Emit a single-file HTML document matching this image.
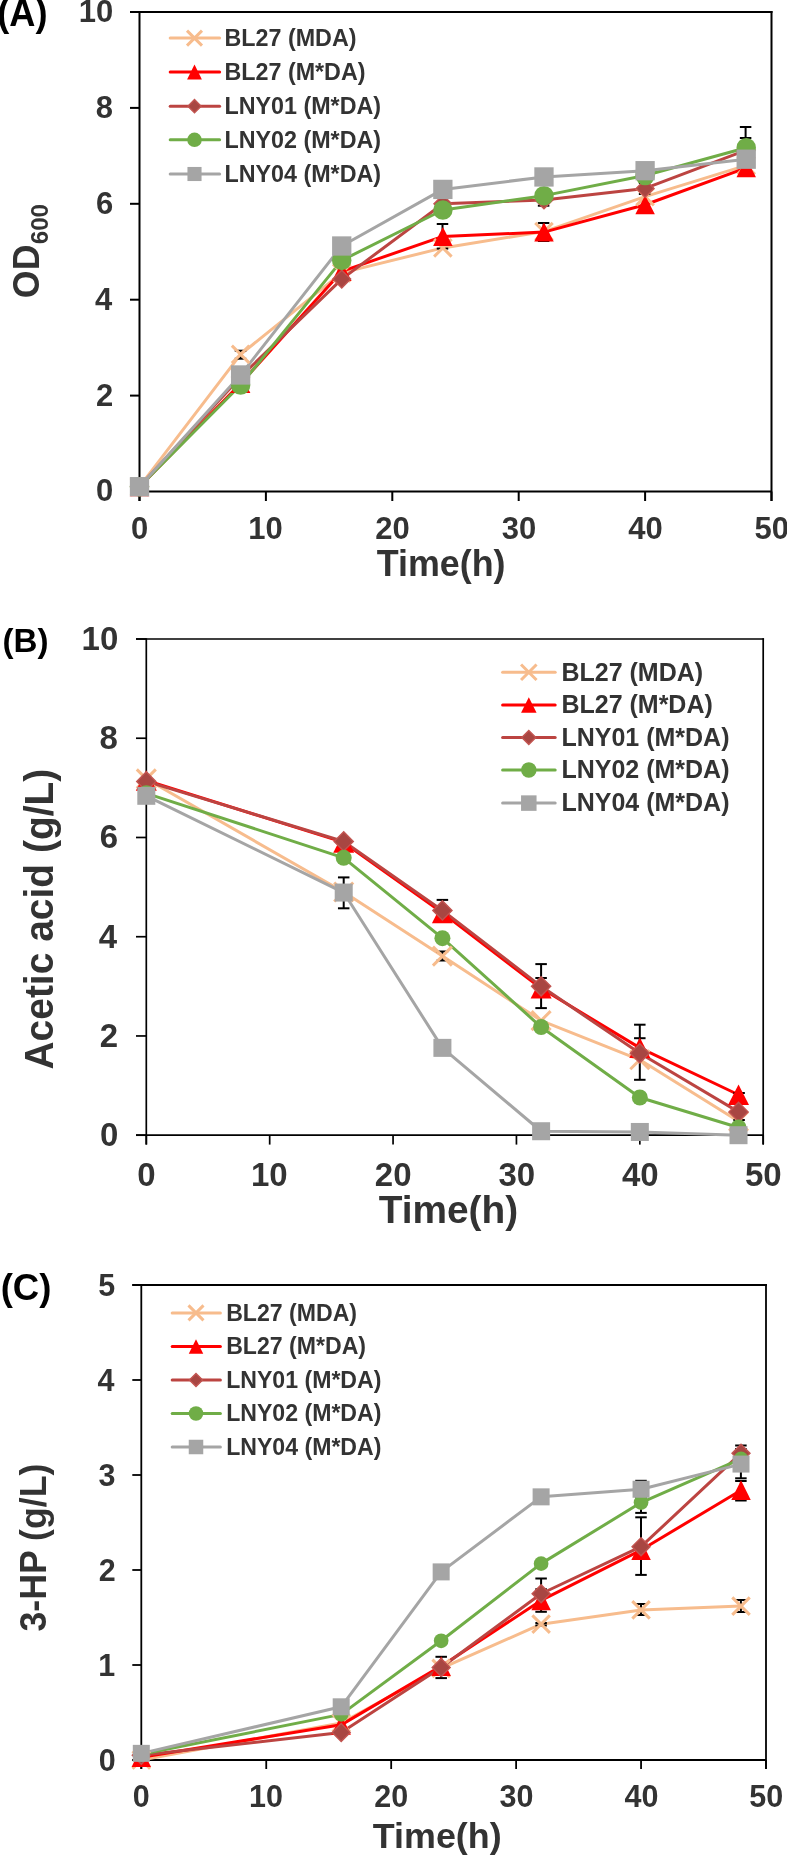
<!DOCTYPE html>
<html><head><meta charset="utf-8"><style>
html,body{margin:0;padding:0;background:#fff;}
svg{display:block;will-change:transform;}
text{font-family:"Liberation Sans",sans-serif;font-weight:bold;}
</style></head><body>
<svg width="787" height="1856" viewBox="0 0 787 1856">
<rect width="787" height="1856" fill="#fff"/>
<line x1="130" y1="491.5" x2="139.5" y2="491.5" stroke="#000" stroke-width="2" stroke-linecap="butt"/>
<line x1="130" y1="395.6" x2="139.5" y2="395.6" stroke="#000" stroke-width="2" stroke-linecap="butt"/>
<line x1="130" y1="299.7" x2="139.5" y2="299.7" stroke="#000" stroke-width="2" stroke-linecap="butt"/>
<line x1="130" y1="203.8" x2="139.5" y2="203.8" stroke="#000" stroke-width="2" stroke-linecap="butt"/>
<line x1="130" y1="107.9" x2="139.5" y2="107.9" stroke="#000" stroke-width="2" stroke-linecap="butt"/>
<line x1="130" y1="12" x2="139.5" y2="12" stroke="#000" stroke-width="2" stroke-linecap="butt"/>
<line x1="130" y1="12" x2="772.5" y2="12" stroke="#000" stroke-width="2" stroke-linecap="butt"/>
<line x1="771.5" y1="11" x2="771.5" y2="501" stroke="#000" stroke-width="2" stroke-linecap="butt"/>
<line x1="139.5" y1="11" x2="139.5" y2="501" stroke="#000" stroke-width="2" stroke-linecap="butt"/>
<line x1="130" y1="491.5" x2="771.5" y2="491.5" stroke="#000" stroke-width="2" stroke-linecap="butt"/>
<line x1="139.5" y1="491.5" x2="139.5" y2="501" stroke="#000" stroke-width="2" stroke-linecap="butt"/>
<line x1="265.9" y1="491.5" x2="265.9" y2="501" stroke="#000" stroke-width="2" stroke-linecap="butt"/>
<line x1="392.3" y1="491.5" x2="392.3" y2="501" stroke="#000" stroke-width="2" stroke-linecap="butt"/>
<line x1="518.7" y1="491.5" x2="518.7" y2="501" stroke="#000" stroke-width="2" stroke-linecap="butt"/>
<line x1="645.1" y1="491.5" x2="645.1" y2="501" stroke="#000" stroke-width="2" stroke-linecap="butt"/>
<line x1="771.5" y1="491.5" x2="771.5" y2="501" stroke="#000" stroke-width="2" stroke-linecap="butt"/>
<text x="96.03" y="501.4" font-size="31" fill="#333333" textLength="17.24" lengthAdjust="spacingAndGlyphs">0</text>
<text x="96" y="405.5" font-size="31" fill="#333333" textLength="17.24" lengthAdjust="spacingAndGlyphs">2</text>
<text x="94.93" y="309.6" font-size="31" fill="#333333" textLength="17.24" lengthAdjust="spacingAndGlyphs">4</text>
<text x="95.88" y="213.7" font-size="31" fill="#333333" textLength="17.24" lengthAdjust="spacingAndGlyphs">6</text>
<text x="95.71" y="117.8" font-size="31" fill="#333333" textLength="17.24" lengthAdjust="spacingAndGlyphs">8</text>
<text x="78.79" y="21.9" font-size="31" fill="#333333" textLength="34.48" lengthAdjust="spacingAndGlyphs">10</text>
<text x="130.9" y="538.5" font-size="31" fill="#333333" textLength="17.24" lengthAdjust="spacingAndGlyphs">0</text>
<text x="248.32" y="538.5" font-size="31" fill="#333333" textLength="34.48" lengthAdjust="spacingAndGlyphs">10</text>
<text x="375.16" y="538.5" font-size="31" fill="#333333" textLength="34.48" lengthAdjust="spacingAndGlyphs">20</text>
<text x="501.74" y="538.5" font-size="31" fill="#333333" textLength="34.48" lengthAdjust="spacingAndGlyphs">30</text>
<text x="628.26" y="538.5" font-size="31" fill="#333333" textLength="34.48" lengthAdjust="spacingAndGlyphs">40</text>
<text x="754.42" y="538.5" font-size="31" fill="#333333" textLength="34.48" lengthAdjust="spacingAndGlyphs">50</text>
<polyline points="139.5,486.7 240.62,354.36 341.74,272.85 442.86,247.91 543.98,231.61 645.1,196.61 746.22,165.44" fill="none" stroke="#F7BC8D" stroke-width="3" stroke-linejoin="round" stroke-linecap="round"/>
<polyline points="139.5,486.7 240.62,383.61 341.74,271.41 442.86,236.41 543.98,232.09 645.1,204.76 746.22,167.84" fill="none" stroke="#FF0000" stroke-width="3" stroke-linejoin="round" stroke-linecap="round"/>
<polyline points="139.5,486.7 240.62,376.9 341.74,279.08 442.86,203.8 543.98,199.96 645.1,188.46 746.22,150.1" fill="none" stroke="#BC4441" stroke-width="3" stroke-linejoin="round" stroke-linecap="round"/>
<polyline points="139.5,486.7 240.62,385.05 341.74,260.38 442.86,210.03 543.98,195.65 645.1,175.51 746.22,147.7" fill="none" stroke="#70AD47" stroke-width="3" stroke-linejoin="round" stroke-linecap="round"/>
<polyline points="139.5,486.7 240.62,374.98 341.74,246 442.86,189.41 543.98,176.95 645.1,170.71 746.22,159.21" fill="none" stroke="#A5A5A5" stroke-width="3" stroke-linejoin="round" stroke-linecap="round"/>
<line x1="240.5" y1="350.7" x2="240.5" y2="358.7" stroke="#000" stroke-width="2" stroke-linecap="butt"/>
<line x1="234.75" y1="350.7" x2="246.25" y2="350.7" stroke="#000" stroke-width="2" stroke-linecap="butt"/>
<line x1="234.75" y1="358.7" x2="246.25" y2="358.7" stroke="#000" stroke-width="2" stroke-linecap="butt"/>
<line x1="442.5" y1="224" x2="442.5" y2="248.6" stroke="#000" stroke-width="2" stroke-linecap="butt"/>
<line x1="436.75" y1="224" x2="448.25" y2="224" stroke="#000" stroke-width="2" stroke-linecap="butt"/>
<line x1="436.75" y1="248.6" x2="448.25" y2="248.6" stroke="#000" stroke-width="2" stroke-linecap="butt"/>
<line x1="543.6" y1="223" x2="543.6" y2="241" stroke="#000" stroke-width="2" stroke-linecap="butt"/>
<line x1="537.85" y1="223" x2="549.35" y2="223" stroke="#000" stroke-width="2" stroke-linecap="butt"/>
<line x1="537.85" y1="241" x2="549.35" y2="241" stroke="#000" stroke-width="2" stroke-linecap="butt"/>
<line x1="543.6" y1="194.3" x2="543.6" y2="205.7" stroke="#000" stroke-width="2" stroke-linecap="butt"/>
<line x1="537.85" y1="194.3" x2="549.35" y2="194.3" stroke="#000" stroke-width="2" stroke-linecap="butt"/>
<line x1="537.85" y1="205.7" x2="549.35" y2="205.7" stroke="#000" stroke-width="2" stroke-linecap="butt"/>
<line x1="644.6" y1="183" x2="644.6" y2="194" stroke="#000" stroke-width="2" stroke-linecap="butt"/>
<line x1="638.85" y1="183" x2="650.35" y2="183" stroke="#000" stroke-width="2" stroke-linecap="butt"/>
<line x1="638.85" y1="194" x2="650.35" y2="194" stroke="#000" stroke-width="2" stroke-linecap="butt"/>
<line x1="745.6" y1="127" x2="745.6" y2="138" stroke="#000" stroke-width="2" stroke-linecap="butt"/>
<line x1="739.85" y1="127" x2="751.35" y2="127" stroke="#000" stroke-width="2" stroke-linecap="butt"/>
<line x1="739.85" y1="138" x2="751.35" y2="138" stroke="#000" stroke-width="2" stroke-linecap="butt"/>
<path d="M130.75,477.95L148.25,495.45M148.25,477.95L130.75,495.45" stroke="#F7BC8D" stroke-width="3" fill="none"/>
<path d="M231.87,345.61L249.37,363.11M249.37,345.61L231.87,363.11" stroke="#F7BC8D" stroke-width="3" fill="none"/>
<path d="M332.99,264.1L350.49,281.6M350.49,264.1L332.99,281.6" stroke="#F7BC8D" stroke-width="3" fill="none"/>
<path d="M434.11,239.16L451.61,256.66M451.61,239.16L434.11,256.66" stroke="#F7BC8D" stroke-width="3" fill="none"/>
<path d="M535.23,222.86L552.73,240.36M552.73,222.86L535.23,240.36" stroke="#F7BC8D" stroke-width="3" fill="none"/>
<path d="M636.35,187.86L653.85,205.36M653.85,187.86L636.35,205.36" stroke="#F7BC8D" stroke-width="3" fill="none"/>
<path d="M737.47,156.69L754.97,174.19M754.97,156.69L737.47,174.19" stroke="#F7BC8D" stroke-width="3" fill="none"/>
<polygon points="139.5,477.2 149.25,496.2 129.75,496.2" fill="#FF0000"/>
<polygon points="240.62,374.11 250.37,393.11 230.87,393.11" fill="#FF0000"/>
<polygon points="341.74,261.91 351.49,280.91 331.99,280.91" fill="#FF0000"/>
<polygon points="442.86,226.91 452.61,245.91 433.11,245.91" fill="#FF0000"/>
<polygon points="543.98,222.59 553.73,241.59 534.23,241.59" fill="#FF0000"/>
<polygon points="645.1,195.26 654.85,214.26 635.35,214.26" fill="#FF0000"/>
<polygon points="746.22,158.34 755.97,177.34 736.47,177.34" fill="#FF0000"/>
<polygon points="139.5,477.81 148.4,486.7 139.5,495.6 130.6,486.7" fill="#A84642" stroke="#C25450" stroke-width="1.4"/>
<polygon points="240.62,368 249.52,376.9 240.62,385.8 231.72,376.9" fill="#A84642" stroke="#C25450" stroke-width="1.4"/>
<polygon points="341.74,270.18 350.64,279.08 341.74,287.98 332.84,279.08" fill="#A84642" stroke="#C25450" stroke-width="1.4"/>
<polygon points="442.86,194.9 451.76,203.8 442.86,212.7 433.96,203.8" fill="#A84642" stroke="#C25450" stroke-width="1.4"/>
<polygon points="543.98,191.06 552.88,199.96 543.98,208.86 535.08,199.96" fill="#A84642" stroke="#C25450" stroke-width="1.4"/>
<polygon points="645.1,179.56 654,188.46 645.1,197.36 636.2,188.46" fill="#A84642" stroke="#C25450" stroke-width="1.4"/>
<polygon points="746.22,141.2 755.12,150.1 746.22,159 737.32,150.1" fill="#A84642" stroke="#C25450" stroke-width="1.4"/>
<circle cx="139.5" cy="486.7" r="9.75" fill="#70AD47"/>
<circle cx="240.62" cy="385.05" r="9.75" fill="#70AD47"/>
<circle cx="341.74" cy="260.38" r="9.75" fill="#70AD47"/>
<circle cx="442.86" cy="210.03" r="9.75" fill="#70AD47"/>
<circle cx="543.98" cy="195.65" r="9.75" fill="#70AD47"/>
<circle cx="645.1" cy="175.51" r="9.75" fill="#70AD47"/>
<circle cx="746.22" cy="147.7" r="9.75" fill="#70AD47"/>
<rect x="129.85" y="477.06" width="19.3" height="19.3" fill="#A5A5A5"/>
<rect x="230.97" y="365.33" width="19.3" height="19.3" fill="#A5A5A5"/>
<rect x="332.09" y="236.35" width="19.3" height="19.3" fill="#A5A5A5"/>
<rect x="433.21" y="179.76" width="19.3" height="19.3" fill="#A5A5A5"/>
<rect x="534.33" y="167.3" width="19.3" height="19.3" fill="#A5A5A5"/>
<rect x="635.45" y="161.06" width="19.3" height="19.3" fill="#A5A5A5"/>
<rect x="736.57" y="149.56" width="19.3" height="19.3" fill="#A5A5A5"/>
<line x1="170.2" y1="38.1" x2="219.6" y2="38.1" stroke="#F7BC8D" stroke-width="3" stroke-linecap="round"/>
<path d="M187,30.6L202,45.6M202,30.6L187,45.6" stroke="#F7BC8D" stroke-width="3" fill="none"/>
<text x="224.44" y="45.8" font-size="23.3" fill="#333333" textLength="132.03" lengthAdjust="spacingAndGlyphs">BL27 (MDA)</text>
<line x1="170.2" y1="72" x2="219.6" y2="72" stroke="#FF0000" stroke-width="3" stroke-linecap="round"/>
<polygon points="194.5,64.5 201.9,79.5 187.1,79.5" fill="#FF0000"/>
<text x="224.44" y="79.7" font-size="23.3" fill="#333333" textLength="141.1" lengthAdjust="spacingAndGlyphs">BL27 (M*DA)</text>
<line x1="170.2" y1="106.2" x2="219.6" y2="106.2" stroke="#BC4441" stroke-width="3" stroke-linecap="round"/>
<polygon points="194.5,99.6 201.1,106.2 194.5,112.8 187.9,106.2" fill="#A84642" stroke="#C25450" stroke-width="1.4"/>
<text x="224.44" y="113.9" font-size="23.3" fill="#333333" textLength="156.64" lengthAdjust="spacingAndGlyphs">LNY01 (M*DA)</text>
<line x1="170.2" y1="139.8" x2="219.6" y2="139.8" stroke="#70AD47" stroke-width="3" stroke-linecap="round"/>
<circle cx="194.5" cy="139.8" r="7.3" fill="#70AD47"/>
<text x="224.44" y="147.5" font-size="23.3" fill="#333333" textLength="156.64" lengthAdjust="spacingAndGlyphs">LNY02 (M*DA)</text>
<line x1="170.2" y1="174" x2="219.6" y2="174" stroke="#A5A5A5" stroke-width="3" stroke-linecap="round"/>
<rect x="187.45" y="166.95" width="14.1" height="14.1" fill="#A5A5A5"/>
<text x="224.44" y="181.7" font-size="23.3" fill="#333333" textLength="156.64" lengthAdjust="spacingAndGlyphs">LNY04 (M*DA)</text>
<line x1="136" y1="1135.2" x2="146.3" y2="1135.2" stroke="#000" stroke-width="1.7" stroke-linecap="butt"/>
<line x1="136" y1="1035.96" x2="146.3" y2="1035.96" stroke="#000" stroke-width="1.7" stroke-linecap="butt"/>
<line x1="136" y1="936.72" x2="146.3" y2="936.72" stroke="#000" stroke-width="1.7" stroke-linecap="butt"/>
<line x1="136" y1="837.48" x2="146.3" y2="837.48" stroke="#000" stroke-width="1.7" stroke-linecap="butt"/>
<line x1="136" y1="738.24" x2="146.3" y2="738.24" stroke="#000" stroke-width="1.7" stroke-linecap="butt"/>
<line x1="136" y1="639" x2="146.3" y2="639" stroke="#000" stroke-width="1.7" stroke-linecap="butt"/>
<line x1="136" y1="639" x2="764.05" y2="639" stroke="#000" stroke-width="1.7" stroke-linecap="butt"/>
<line x1="763.2" y1="638.15" x2="763.2" y2="1144.6" stroke="#000" stroke-width="1.7" stroke-linecap="butt"/>
<line x1="146.3" y1="638.15" x2="146.3" y2="1144.6" stroke="#000" stroke-width="1.7" stroke-linecap="butt"/>
<line x1="136" y1="1135.2" x2="763.2" y2="1135.2" stroke="#000" stroke-width="1.7" stroke-linecap="butt"/>
<line x1="146.3" y1="1135.2" x2="146.3" y2="1144.6" stroke="#000" stroke-width="1.7" stroke-linecap="butt"/>
<line x1="269.68" y1="1135.2" x2="269.68" y2="1144.6" stroke="#000" stroke-width="1.7" stroke-linecap="butt"/>
<line x1="393.06" y1="1135.2" x2="393.06" y2="1144.6" stroke="#000" stroke-width="1.7" stroke-linecap="butt"/>
<line x1="516.44" y1="1135.2" x2="516.44" y2="1144.6" stroke="#000" stroke-width="1.7" stroke-linecap="butt"/>
<line x1="639.82" y1="1135.2" x2="639.82" y2="1144.6" stroke="#000" stroke-width="1.7" stroke-linecap="butt"/>
<line x1="763.2" y1="1135.2" x2="763.2" y2="1144.6" stroke="#000" stroke-width="1.7" stroke-linecap="butt"/>
<text x="99.9" y="1146.2" font-size="33" fill="#333333" textLength="18.35" lengthAdjust="spacingAndGlyphs">0</text>
<text x="99.87" y="1046.96" font-size="33" fill="#333333" textLength="18.35" lengthAdjust="spacingAndGlyphs">2</text>
<text x="98.72" y="947.72" font-size="33" fill="#333333" textLength="18.35" lengthAdjust="spacingAndGlyphs">4</text>
<text x="99.74" y="848.48" font-size="33" fill="#333333" textLength="18.35" lengthAdjust="spacingAndGlyphs">6</text>
<text x="99.56" y="749.24" font-size="33" fill="#333333" textLength="18.35" lengthAdjust="spacingAndGlyphs">8</text>
<text x="81.55" y="650" font-size="33" fill="#333333" textLength="36.71" lengthAdjust="spacingAndGlyphs">10</text>
<text x="137.15" y="1185.5" font-size="33" fill="#333333" textLength="18.35" lengthAdjust="spacingAndGlyphs">0</text>
<text x="250.96" y="1185.5" font-size="33" fill="#333333" textLength="36.71" lengthAdjust="spacingAndGlyphs">10</text>
<text x="374.81" y="1185.5" font-size="33" fill="#333333" textLength="36.71" lengthAdjust="spacingAndGlyphs">20</text>
<text x="498.39" y="1185.5" font-size="33" fill="#333333" textLength="36.71" lengthAdjust="spacingAndGlyphs">30</text>
<text x="621.89" y="1185.5" font-size="33" fill="#333333" textLength="36.71" lengthAdjust="spacingAndGlyphs">40</text>
<text x="745.02" y="1185.5" font-size="33" fill="#333333" textLength="36.71" lengthAdjust="spacingAndGlyphs">50</text>
<polyline points="146.3,778.93 343.71,892.06 442.41,956.07 541.12,1020.58 639.82,1059.78 738.52,1121.31" fill="none" stroke="#F7BC8D" stroke-width="3" stroke-linejoin="round" stroke-linecap="round"/>
<polyline points="146.3,780.42 343.71,842.44 442.41,912.9 541.12,988.32 639.82,1047.87 738.52,1094.76" fill="none" stroke="#FF0000" stroke-width="3" stroke-linejoin="round" stroke-linecap="round"/>
<polyline points="146.3,781.41 343.71,841.45 442.41,910.42 541.12,986.34 639.82,1053.33 738.52,1111.88" fill="none" stroke="#BC4441" stroke-width="3" stroke-linejoin="round" stroke-linecap="round"/>
<polyline points="146.3,793.32 343.71,857.82 442.41,938.21 541.12,1027.03 639.82,1097.49 738.52,1127.51" fill="none" stroke="#70AD47" stroke-width="3" stroke-linejoin="round" stroke-linecap="round"/>
<polyline points="146.3,795.8 343.71,892.56 442.41,1047.87 541.12,1131.23 639.82,1131.97 738.52,1135.2" fill="none" stroke="#A5A5A5" stroke-width="3" stroke-linejoin="round" stroke-linecap="round"/>
<line x1="343.7" y1="877.4" x2="343.7" y2="908.3" stroke="#000" stroke-width="2" stroke-linecap="butt"/>
<line x1="337.95" y1="877.4" x2="349.45" y2="877.4" stroke="#000" stroke-width="2" stroke-linecap="butt"/>
<line x1="337.95" y1="908.3" x2="349.45" y2="908.3" stroke="#000" stroke-width="2" stroke-linecap="butt"/>
<line x1="442.4" y1="899.9" x2="442.4" y2="920.7" stroke="#000" stroke-width="2" stroke-linecap="butt"/>
<line x1="436.65" y1="899.9" x2="448.15" y2="899.9" stroke="#000" stroke-width="2" stroke-linecap="butt"/>
<line x1="436.65" y1="920.7" x2="448.15" y2="920.7" stroke="#000" stroke-width="2" stroke-linecap="butt"/>
<line x1="442.4" y1="951.5" x2="442.4" y2="960.5" stroke="#000" stroke-width="2" stroke-linecap="butt"/>
<line x1="436.65" y1="951.5" x2="448.15" y2="951.5" stroke="#000" stroke-width="2" stroke-linecap="butt"/>
<line x1="436.65" y1="960.5" x2="448.15" y2="960.5" stroke="#000" stroke-width="2" stroke-linecap="butt"/>
<line x1="541.1" y1="964.1" x2="541.1" y2="1008.1" stroke="#000" stroke-width="2" stroke-linecap="butt"/>
<line x1="535.35" y1="964.1" x2="546.85" y2="964.1" stroke="#000" stroke-width="2" stroke-linecap="butt"/>
<line x1="535.35" y1="1008.1" x2="546.85" y2="1008.1" stroke="#000" stroke-width="2" stroke-linecap="butt"/>
<line x1="541.1" y1="978" x2="541.1" y2="994" stroke="#000" stroke-width="2" stroke-linecap="butt"/>
<line x1="535.35" y1="978" x2="546.85" y2="978" stroke="#000" stroke-width="2" stroke-linecap="butt"/>
<line x1="535.35" y1="994" x2="546.85" y2="994" stroke="#000" stroke-width="2" stroke-linecap="butt"/>
<line x1="639.8" y1="1024.7" x2="639.8" y2="1079.8" stroke="#000" stroke-width="2" stroke-linecap="butt"/>
<line x1="634.05" y1="1024.7" x2="645.55" y2="1024.7" stroke="#000" stroke-width="2" stroke-linecap="butt"/>
<line x1="634.05" y1="1079.8" x2="645.55" y2="1079.8" stroke="#000" stroke-width="2" stroke-linecap="butt"/>
<line x1="639.8" y1="1038.2" x2="639.8" y2="1057" stroke="#000" stroke-width="2" stroke-linecap="butt"/>
<line x1="634.05" y1="1038.2" x2="645.55" y2="1038.2" stroke="#000" stroke-width="2" stroke-linecap="butt"/>
<line x1="634.05" y1="1057" x2="645.55" y2="1057" stroke="#000" stroke-width="2" stroke-linecap="butt"/>
<line x1="739.1" y1="1093" x2="739.1" y2="1120" stroke="#000" stroke-width="2" stroke-linecap="butt"/>
<line x1="733.35" y1="1093" x2="744.85" y2="1093" stroke="#000" stroke-width="2" stroke-linecap="butt"/>
<line x1="733.35" y1="1120" x2="744.85" y2="1120" stroke="#000" stroke-width="2" stroke-linecap="butt"/>
<path d="M136.8,769.43L155.8,788.43M155.8,769.43L136.8,788.43" stroke="#F7BC8D" stroke-width="3" fill="none"/>
<path d="M334.21,882.56L353.21,901.56M353.21,882.56L334.21,901.56" stroke="#F7BC8D" stroke-width="3" fill="none"/>
<path d="M432.91,946.57L451.91,965.57M451.91,946.57L432.91,965.57" stroke="#F7BC8D" stroke-width="3" fill="none"/>
<path d="M531.62,1011.08L550.62,1030.08M550.62,1011.08L531.62,1030.08" stroke="#F7BC8D" stroke-width="3" fill="none"/>
<path d="M630.32,1050.28L649.32,1069.28M649.32,1050.28L630.32,1069.28" stroke="#F7BC8D" stroke-width="3" fill="none"/>
<path d="M729.02,1111.81L748.02,1130.81M748.02,1111.81L729.02,1130.81" stroke="#F7BC8D" stroke-width="3" fill="none"/>
<polygon points="146.3,770.17 156.8,790.67 135.8,790.67" fill="#FF0000"/>
<polygon points="343.71,832.19 354.21,852.69 333.21,852.69" fill="#FF0000"/>
<polygon points="442.41,902.65 452.91,923.15 431.91,923.15" fill="#FF0000"/>
<polygon points="541.12,978.07 551.62,998.57 530.62,998.57" fill="#FF0000"/>
<polygon points="639.82,1037.62 650.32,1058.12 629.32,1058.12" fill="#FF0000"/>
<polygon points="738.52,1084.51 749.02,1105.01 728.02,1105.01" fill="#FF0000"/>
<polygon points="146.3,771.81 155.9,781.41 146.3,791.01 136.7,781.41" fill="#A84642" stroke="#C25450" stroke-width="1.4"/>
<polygon points="343.71,831.85 353.31,841.45 343.71,851.05 334.11,841.45" fill="#A84642" stroke="#C25450" stroke-width="1.4"/>
<polygon points="442.41,900.82 452.01,910.42 442.41,920.02 432.81,910.42" fill="#A84642" stroke="#C25450" stroke-width="1.4"/>
<polygon points="541.12,976.74 550.72,986.34 541.12,995.94 531.52,986.34" fill="#A84642" stroke="#C25450" stroke-width="1.4"/>
<polygon points="639.82,1043.73 649.42,1053.33 639.82,1062.93 630.22,1053.33" fill="#A84642" stroke="#C25450" stroke-width="1.4"/>
<polygon points="738.52,1102.28 748.12,1111.88 738.52,1121.48 728.92,1111.88" fill="#A84642" stroke="#C25450" stroke-width="1.4"/>
<circle cx="146.3" cy="793.32" r="8" fill="#70AD47"/>
<circle cx="343.71" cy="857.82" r="8" fill="#70AD47"/>
<circle cx="442.41" cy="938.21" r="8" fill="#70AD47"/>
<circle cx="541.12" cy="1027.03" r="8" fill="#70AD47"/>
<circle cx="639.82" cy="1097.49" r="8" fill="#70AD47"/>
<circle cx="738.52" cy="1127.51" r="8" fill="#70AD47"/>
<rect x="137.3" y="786.8" width="18" height="18" fill="#A5A5A5"/>
<rect x="334.71" y="883.56" width="18" height="18" fill="#A5A5A5"/>
<rect x="433.41" y="1038.87" width="18" height="18" fill="#A5A5A5"/>
<rect x="532.12" y="1122.23" width="18" height="18" fill="#A5A5A5"/>
<rect x="630.82" y="1122.97" width="18" height="18" fill="#A5A5A5"/>
<rect x="729.52" y="1126.2" width="18" height="18" fill="#A5A5A5"/>
<line x1="502.6" y1="672.2" x2="555.2" y2="672.2" stroke="#F7BC8D" stroke-width="3" stroke-linecap="round"/>
<path d="M521.05,664.45L536.55,679.95M536.55,664.45L521.05,679.95" stroke="#F7BC8D" stroke-width="3" fill="none"/>
<text x="561.43" y="680.5" font-size="25" fill="#333333" textLength="141.66" lengthAdjust="spacingAndGlyphs">BL27 (MDA)</text>
<line x1="502.6" y1="705" x2="555.2" y2="705" stroke="#FF0000" stroke-width="3" stroke-linecap="round"/>
<polygon points="528.8,697.25 536.55,712.75 521.05,712.75" fill="#FF0000"/>
<text x="561.43" y="713.3" font-size="25" fill="#333333" textLength="151.39" lengthAdjust="spacingAndGlyphs">BL27 (M*DA)</text>
<line x1="502.6" y1="737.4" x2="555.2" y2="737.4" stroke="#BC4441" stroke-width="3" stroke-linecap="round"/>
<polygon points="528.8,730.4 535.8,737.4 528.8,744.4 521.8,737.4" fill="#A84642" stroke="#C25450" stroke-width="1.4"/>
<text x="561.43" y="745.7" font-size="25" fill="#333333" textLength="168.07" lengthAdjust="spacingAndGlyphs">LNY01 (M*DA)</text>
<line x1="502.6" y1="770.1" x2="555.2" y2="770.1" stroke="#70AD47" stroke-width="3" stroke-linecap="round"/>
<circle cx="528.8" cy="770.1" r="7.75" fill="#70AD47"/>
<text x="561.43" y="778.4" font-size="25" fill="#333333" textLength="168.07" lengthAdjust="spacingAndGlyphs">LNY02 (M*DA)</text>
<line x1="502.6" y1="803.1" x2="555.2" y2="803.1" stroke="#A5A5A5" stroke-width="3" stroke-linecap="round"/>
<rect x="521.05" y="795.35" width="15.5" height="15.5" fill="#A5A5A5"/>
<text x="561.43" y="811.4" font-size="25" fill="#333333" textLength="168.07" lengthAdjust="spacingAndGlyphs">LNY04 (M*DA)</text>
<line x1="132.3" y1="1760" x2="141.3" y2="1760" stroke="#000" stroke-width="1.8" stroke-linecap="butt"/>
<line x1="132.3" y1="1665" x2="141.3" y2="1665" stroke="#000" stroke-width="1.8" stroke-linecap="butt"/>
<line x1="132.3" y1="1570" x2="141.3" y2="1570" stroke="#000" stroke-width="1.8" stroke-linecap="butt"/>
<line x1="132.3" y1="1475" x2="141.3" y2="1475" stroke="#000" stroke-width="1.8" stroke-linecap="butt"/>
<line x1="132.3" y1="1380" x2="141.3" y2="1380" stroke="#000" stroke-width="1.8" stroke-linecap="butt"/>
<line x1="132.3" y1="1285" x2="141.3" y2="1285" stroke="#000" stroke-width="1.8" stroke-linecap="butt"/>
<line x1="132.3" y1="1285" x2="766.9" y2="1285" stroke="#000" stroke-width="1.8" stroke-linecap="butt"/>
<line x1="766" y1="1284.1" x2="766" y2="1769" stroke="#000" stroke-width="1.8" stroke-linecap="butt"/>
<line x1="141.3" y1="1284.1" x2="141.3" y2="1769" stroke="#000" stroke-width="1.8" stroke-linecap="butt"/>
<line x1="132.3" y1="1760" x2="766" y2="1760" stroke="#000" stroke-width="1.8" stroke-linecap="butt"/>
<line x1="141.3" y1="1760" x2="141.3" y2="1769" stroke="#000" stroke-width="1.8" stroke-linecap="butt"/>
<line x1="266.24" y1="1760" x2="266.24" y2="1769" stroke="#000" stroke-width="1.8" stroke-linecap="butt"/>
<line x1="391.18" y1="1760" x2="391.18" y2="1769" stroke="#000" stroke-width="1.8" stroke-linecap="butt"/>
<line x1="516.12" y1="1760" x2="516.12" y2="1769" stroke="#000" stroke-width="1.8" stroke-linecap="butt"/>
<line x1="641.06" y1="1760" x2="641.06" y2="1769" stroke="#000" stroke-width="1.8" stroke-linecap="butt"/>
<line x1="766" y1="1760" x2="766" y2="1769" stroke="#000" stroke-width="1.8" stroke-linecap="butt"/>
<text x="98.69" y="1770.5" font-size="30.5" fill="#333333" textLength="16.96" lengthAdjust="spacingAndGlyphs">0</text>
<text x="98.29" y="1675.5" font-size="30.5" fill="#333333" textLength="16.96" lengthAdjust="spacingAndGlyphs">1</text>
<text x="98.66" y="1580.5" font-size="30.5" fill="#333333" textLength="16.96" lengthAdjust="spacingAndGlyphs">2</text>
<text x="98.54" y="1485.5" font-size="30.5" fill="#333333" textLength="16.96" lengthAdjust="spacingAndGlyphs">3</text>
<text x="97.6" y="1390.5" font-size="30.5" fill="#333333" textLength="16.96" lengthAdjust="spacingAndGlyphs">4</text>
<text x="98.29" y="1295.5" font-size="30.5" fill="#333333" textLength="16.96" lengthAdjust="spacingAndGlyphs">5</text>
<text x="132.84" y="1807.3" font-size="30.5" fill="#333333" textLength="16.96" lengthAdjust="spacingAndGlyphs">0</text>
<text x="248.94" y="1807.3" font-size="30.5" fill="#333333" textLength="33.93" lengthAdjust="spacingAndGlyphs">10</text>
<text x="374.31" y="1807.3" font-size="30.5" fill="#333333" textLength="33.93" lengthAdjust="spacingAndGlyphs">20</text>
<text x="499.43" y="1807.3" font-size="30.5" fill="#333333" textLength="33.93" lengthAdjust="spacingAndGlyphs">30</text>
<text x="624.49" y="1807.3" font-size="30.5" fill="#333333" textLength="33.93" lengthAdjust="spacingAndGlyphs">40</text>
<text x="749.19" y="1807.3" font-size="30.5" fill="#333333" textLength="33.93" lengthAdjust="spacingAndGlyphs">50</text>
<polyline points="141.3,1760 341.2,1722.95 441.16,1668.33 541.11,1624.15 641.06,1609.9 741.01,1606.1" fill="none" stroke="#F7BC8D" stroke-width="3" stroke-linejoin="round" stroke-linecap="round"/>
<polyline points="141.3,1757.15 341.2,1724.85 441.16,1666.14 541.11,1600.4 641.06,1550.05 741.01,1490.2" fill="none" stroke="#FF0000" stroke-width="3" stroke-linejoin="round" stroke-linecap="round"/>
<polyline points="141.3,1755.25 341.2,1732.45 441.16,1667.47 541.11,1593.75 641.06,1546.72 741.01,1453.15" fill="none" stroke="#BC4441" stroke-width="3" stroke-linejoin="round" stroke-linecap="round"/>
<polyline points="141.3,1754.3 341.2,1714.4 441.16,1640.78 541.11,1563.63 641.06,1502.55 741.01,1458.85" fill="none" stroke="#70AD47" stroke-width="3" stroke-linejoin="round" stroke-linecap="round"/>
<polyline points="141.3,1753.35 341.2,1706.8 441.16,1571.9 541.11,1496.85 641.06,1489.25 741.01,1464.08" fill="none" stroke="#A5A5A5" stroke-width="3" stroke-linejoin="round" stroke-linecap="round"/>
<line x1="441.2" y1="1656.8" x2="441.2" y2="1678.1" stroke="#000" stroke-width="2" stroke-linecap="butt"/>
<line x1="435.45" y1="1656.8" x2="446.95" y2="1656.8" stroke="#000" stroke-width="2" stroke-linecap="butt"/>
<line x1="435.45" y1="1678.1" x2="446.95" y2="1678.1" stroke="#000" stroke-width="2" stroke-linecap="butt"/>
<line x1="541.1" y1="1578.5" x2="541.1" y2="1608.5" stroke="#000" stroke-width="2" stroke-linecap="butt"/>
<line x1="535.35" y1="1578.5" x2="546.85" y2="1578.5" stroke="#000" stroke-width="2" stroke-linecap="butt"/>
<line x1="535.35" y1="1608.5" x2="546.85" y2="1608.5" stroke="#000" stroke-width="2" stroke-linecap="butt"/>
<line x1="541.1" y1="1589.2" x2="541.1" y2="1611.8" stroke="#000" stroke-width="2" stroke-linecap="butt"/>
<line x1="535.35" y1="1589.2" x2="546.85" y2="1589.2" stroke="#000" stroke-width="2" stroke-linecap="butt"/>
<line x1="535.35" y1="1611.8" x2="546.85" y2="1611.8" stroke="#000" stroke-width="2" stroke-linecap="butt"/>
<line x1="641" y1="1480.8" x2="641" y2="1497.6" stroke="#000" stroke-width="2" stroke-linecap="butt"/>
<line x1="635.25" y1="1480.8" x2="646.75" y2="1480.8" stroke="#000" stroke-width="2" stroke-linecap="butt"/>
<line x1="635.25" y1="1497.6" x2="646.75" y2="1497.6" stroke="#000" stroke-width="2" stroke-linecap="butt"/>
<line x1="641" y1="1491" x2="641" y2="1512.9" stroke="#000" stroke-width="2" stroke-linecap="butt"/>
<line x1="635.25" y1="1491" x2="646.75" y2="1491" stroke="#000" stroke-width="2" stroke-linecap="butt"/>
<line x1="635.25" y1="1512.9" x2="646.75" y2="1512.9" stroke="#000" stroke-width="2" stroke-linecap="butt"/>
<line x1="641" y1="1517.3" x2="641" y2="1574.9" stroke="#000" stroke-width="2" stroke-linecap="butt"/>
<line x1="635.25" y1="1517.3" x2="646.75" y2="1517.3" stroke="#000" stroke-width="2" stroke-linecap="butt"/>
<line x1="635.25" y1="1574.9" x2="646.75" y2="1574.9" stroke="#000" stroke-width="2" stroke-linecap="butt"/>
<line x1="641" y1="1604" x2="641" y2="1615" stroke="#000" stroke-width="2" stroke-linecap="butt"/>
<line x1="635.25" y1="1604" x2="646.75" y2="1604" stroke="#000" stroke-width="2" stroke-linecap="butt"/>
<line x1="635.25" y1="1615" x2="646.75" y2="1615" stroke="#000" stroke-width="2" stroke-linecap="butt"/>
<line x1="740.9" y1="1445.5" x2="740.9" y2="1460" stroke="#000" stroke-width="2" stroke-linecap="butt"/>
<line x1="735.15" y1="1445.5" x2="746.65" y2="1445.5" stroke="#000" stroke-width="2" stroke-linecap="butt"/>
<line x1="735.15" y1="1460" x2="746.65" y2="1460" stroke="#000" stroke-width="2" stroke-linecap="butt"/>
<line x1="740.9" y1="1449" x2="740.9" y2="1478.3" stroke="#000" stroke-width="2" stroke-linecap="butt"/>
<line x1="735.15" y1="1449" x2="746.65" y2="1449" stroke="#000" stroke-width="2" stroke-linecap="butt"/>
<line x1="735.15" y1="1478.3" x2="746.65" y2="1478.3" stroke="#000" stroke-width="2" stroke-linecap="butt"/>
<line x1="740.9" y1="1481" x2="740.9" y2="1500.5" stroke="#000" stroke-width="2" stroke-linecap="butt"/>
<line x1="735.15" y1="1481" x2="746.65" y2="1481" stroke="#000" stroke-width="2" stroke-linecap="butt"/>
<line x1="735.15" y1="1500.5" x2="746.65" y2="1500.5" stroke="#000" stroke-width="2" stroke-linecap="butt"/>
<line x1="740.9" y1="1600" x2="740.9" y2="1612" stroke="#000" stroke-width="2" stroke-linecap="butt"/>
<line x1="735.15" y1="1600" x2="746.65" y2="1600" stroke="#000" stroke-width="2" stroke-linecap="butt"/>
<line x1="735.15" y1="1612" x2="746.65" y2="1612" stroke="#000" stroke-width="2" stroke-linecap="butt"/>
<line x1="541.1" y1="1623" x2="541.1" y2="1625.5" stroke="#000" stroke-width="2" stroke-linecap="butt"/>
<line x1="535.35" y1="1623" x2="546.85" y2="1623" stroke="#000" stroke-width="2" stroke-linecap="butt"/>
<line x1="535.35" y1="1625.5" x2="546.85" y2="1625.5" stroke="#000" stroke-width="2" stroke-linecap="butt"/>
<path d="M132.55,1751.25L150.05,1768.75M150.05,1751.25L132.55,1768.75" stroke="#F7BC8D" stroke-width="3" fill="none"/>
<path d="M332.45,1714.2L349.95,1731.7M349.95,1714.2L332.45,1731.7" stroke="#F7BC8D" stroke-width="3" fill="none"/>
<path d="M432.41,1659.58L449.91,1677.08M449.91,1659.58L432.41,1677.08" stroke="#F7BC8D" stroke-width="3" fill="none"/>
<path d="M532.36,1615.4L549.86,1632.9M549.86,1615.4L532.36,1632.9" stroke="#F7BC8D" stroke-width="3" fill="none"/>
<path d="M632.31,1601.15L649.81,1618.65M649.81,1601.15L632.31,1618.65" stroke="#F7BC8D" stroke-width="3" fill="none"/>
<path d="M732.26,1597.35L749.76,1614.85M749.76,1597.35L732.26,1614.85" stroke="#F7BC8D" stroke-width="3" fill="none"/>
<polygon points="141.3,1747.3 151.05,1767 131.55,1767" fill="#FF0000"/>
<polygon points="341.2,1715 350.95,1734.7 331.45,1734.7" fill="#FF0000"/>
<polygon points="441.16,1656.29 450.91,1675.99 431.41,1675.99" fill="#FF0000"/>
<polygon points="541.11,1590.55 550.86,1610.25 531.36,1610.25" fill="#FF0000"/>
<polygon points="641.06,1540.2 650.81,1559.9 631.31,1559.9" fill="#FF0000"/>
<polygon points="741.01,1480.35 750.76,1500.05 731.26,1500.05" fill="#FF0000"/>
<polygon points="141.3,1746.25 150.3,1755.25 141.3,1764.25 132.3,1755.25" fill="#A84642" stroke="#C25450" stroke-width="1.4"/>
<polygon points="341.2,1723.45 350.2,1732.45 341.2,1741.45 332.2,1732.45" fill="#A84642" stroke="#C25450" stroke-width="1.4"/>
<polygon points="441.16,1658.47 450.16,1667.47 441.16,1676.47 432.16,1667.47" fill="#A84642" stroke="#C25450" stroke-width="1.4"/>
<polygon points="541.11,1584.75 550.11,1593.75 541.11,1602.75 532.11,1593.75" fill="#A84642" stroke="#C25450" stroke-width="1.4"/>
<polygon points="641.06,1537.72 650.06,1546.72 641.06,1555.72 632.06,1546.72" fill="#A84642" stroke="#C25450" stroke-width="1.4"/>
<polygon points="741.01,1444.15 750.01,1453.15 741.01,1462.15 732.01,1453.15" fill="#A84642" stroke="#C25450" stroke-width="1.4"/>
<circle cx="141.3" cy="1754.3" r="7.35" fill="#70AD47"/>
<circle cx="341.2" cy="1714.4" r="7.35" fill="#70AD47"/>
<circle cx="441.16" cy="1640.78" r="7.35" fill="#70AD47"/>
<circle cx="541.11" cy="1563.63" r="7.35" fill="#70AD47"/>
<circle cx="641.06" cy="1502.55" r="7.35" fill="#70AD47"/>
<circle cx="741.01" cy="1458.85" r="7.35" fill="#70AD47"/>
<rect x="132.8" y="1744.85" width="17" height="17" fill="#A5A5A5"/>
<rect x="332.7" y="1698.3" width="17" height="17" fill="#A5A5A5"/>
<rect x="432.66" y="1563.4" width="17" height="17" fill="#A5A5A5"/>
<rect x="532.61" y="1488.35" width="17" height="17" fill="#A5A5A5"/>
<rect x="632.56" y="1480.75" width="17" height="17" fill="#A5A5A5"/>
<rect x="732.51" y="1455.58" width="17" height="17" fill="#A5A5A5"/>
<line x1="172.2" y1="1312.9" x2="220.4" y2="1312.9" stroke="#F7BC8D" stroke-width="3" stroke-linecap="round"/>
<path d="M188.5,1305.4L203.5,1320.4M203.5,1305.4L188.5,1320.4" stroke="#F7BC8D" stroke-width="3" fill="none"/>
<text x="226.15" y="1320.6" font-size="23.1" fill="#333333" textLength="130.9" lengthAdjust="spacingAndGlyphs">BL27 (MDA)</text>
<line x1="172.2" y1="1346.4" x2="220.4" y2="1346.4" stroke="#FF0000" stroke-width="3" stroke-linecap="round"/>
<polygon points="196,1339.15 203.25,1353.65 188.75,1353.65" fill="#FF0000"/>
<text x="226.15" y="1354.1" font-size="23.1" fill="#333333" textLength="139.89" lengthAdjust="spacingAndGlyphs">BL27 (M*DA)</text>
<line x1="172.2" y1="1380" x2="220.4" y2="1380" stroke="#BC4441" stroke-width="3" stroke-linecap="round"/>
<polygon points="196,1373.4 202.6,1380 196,1386.6 189.4,1380" fill="#A84642" stroke="#C25450" stroke-width="1.4"/>
<text x="226.15" y="1387.7" font-size="23.1" fill="#333333" textLength="155.29" lengthAdjust="spacingAndGlyphs">LNY01 (M*DA)</text>
<line x1="172.2" y1="1413.5" x2="220.4" y2="1413.5" stroke="#70AD47" stroke-width="3" stroke-linecap="round"/>
<circle cx="196" cy="1413.5" r="7.25" fill="#70AD47"/>
<text x="226.15" y="1421.2" font-size="23.1" fill="#333333" textLength="155.29" lengthAdjust="spacingAndGlyphs">LNY02 (M*DA)</text>
<line x1="172.2" y1="1447" x2="220.4" y2="1447" stroke="#A5A5A5" stroke-width="3" stroke-linecap="round"/>
<rect x="188.75" y="1439.75" width="14.5" height="14.5" fill="#A5A5A5"/>
<text x="226.15" y="1454.7" font-size="23.1" fill="#333333" textLength="155.29" lengthAdjust="spacingAndGlyphs">LNY04 (M*DA)</text>
<text x="376.7" y="575.75" font-size="36.3" fill="#333333" textLength="128.89" lengthAdjust="spacingAndGlyphs">Time(h)</text>
<text x="378.66" y="1223.4" font-size="38.6" fill="#333333" textLength="139.57" lengthAdjust="spacingAndGlyphs">Time(h)</text>
<text x="372.8" y="1847.5" font-size="35.7" fill="#333333" textLength="128.79" lengthAdjust="spacingAndGlyphs">Time(h)</text>
<text x="-2.76" y="26.4" font-size="38.3" fill="#000" textLength="50.26" lengthAdjust="spacingAndGlyphs">(A)</text>
<text x="2.55" y="652.3" font-size="33.8" fill="#000" textLength="46" lengthAdjust="spacingAndGlyphs">(B)</text>
<text x="0.68" y="1299.5" font-size="36.4" fill="#000" textLength="50.74" lengthAdjust="spacingAndGlyphs">(C)</text>
<text transform="translate(38.9,298.17) rotate(-90)" font-size="36" fill="#333333" textLength="53.67" lengthAdjust="spacingAndGlyphs">OD</text>
<text transform="translate(48,244.29) rotate(-90)" font-size="24.5" fill="#333333" textLength="40.38" lengthAdjust="spacingAndGlyphs">600</text>
<text transform="translate(52.5,1069.57) rotate(-90)" font-size="40.7" fill="#333333" textLength="300.91" lengthAdjust="spacingAndGlyphs">Acetic acid (g/L)</text>
<text transform="translate(45.9,1631.62) rotate(-90)" font-size="37.4" fill="#333333" textLength="168" lengthAdjust="spacingAndGlyphs">3-HP (g/L)</text>
</svg></body></html>
